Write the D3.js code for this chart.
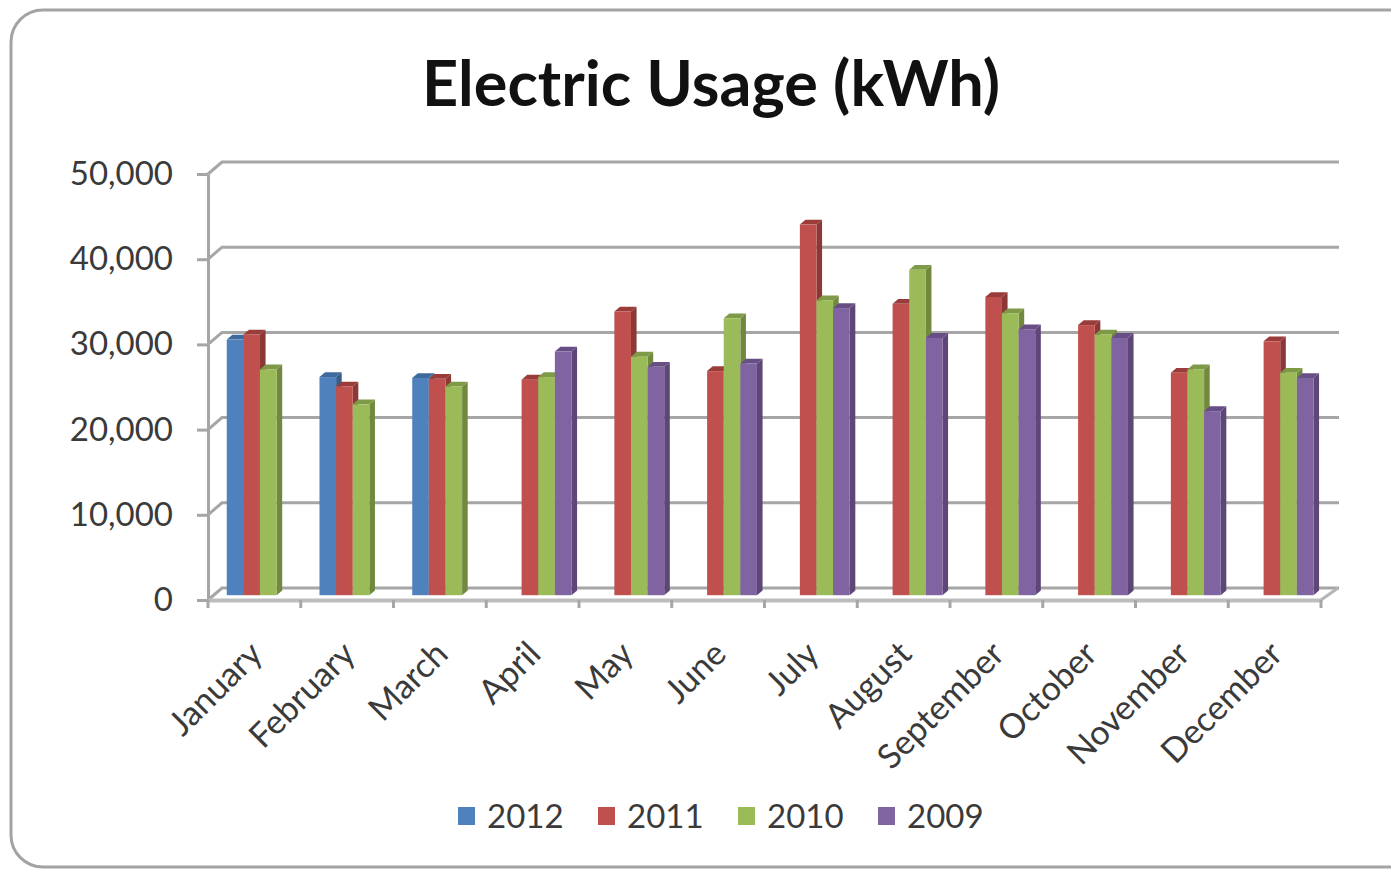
<!DOCTYPE html>
<html>
<head>
<meta charset="utf-8">
<script src="https://cdn.jsdelivr.net/npm/d3@7"></script>
<style>
  body { margin: 0; background: #fff; }
  text { font-family: Lato, 'Open Sans', sans-serif; }
</style>
</head>
<body>
<div id="chart"></div>
<script>
const months = ['January', 'February', 'March', 'April', 'May', 'June', 'July', 'August', 'September', 'October', 'November', 'December']
const years = ['2012', '2011', '2010', '2009']
const usage2012 = [30000, 25600, 25500, null, null, null, null, null, null, null, null, null]
const usage2011 = [30600, 24500, 25400, 25300, 33300, 26300, 43500, 34200, 35000, 31700, 26100, 29800]
const usage2010 = [26500, 22400, 24500, 25600, 28000, 32500, 34600, 38200, 33100, 30600, 26500, 26100]
const usage2009 = [null, null, null, 28600, 26800, 27200, 33700, 30200, 31200, 30200, 21600, 25500]
const yTicks = [0, 10000, 20000, 30000, 40000, 50000]

const seriesValues = [usage2012, usage2011, usage2010, usage2009]
const colors = ['#4f81bd', '#c0504d', '#9bbb59', '#8064a2']
const sideColors = ['#385d8a', '#8c3836', '#71893f', '#5c4776']
const topColors = ['#3f6a9e', '#9a3d3a', '#7e9a47', '#674f86']

const W = 1391
const H = 870
// depth of the 3D box: back wall -> front edge
const DX = -14
const DY = 12
const D_FRONT = 0.6 // bar front face
const D_BACK = 0.2 // bar back face

const svg = d3.select('#chart')
  .append('svg')
  .attr('width', W)
  .attr('height', H)

// outer chart border (right side runs off the picture)
svg.append('rect')
  .attr('x', 11)
  .attr('y', 10)
  .attr('width', 1410)
  .attr('height', 857)
  .attr('rx', 32)
  .style('fill', '#fff')
  .style('stroke', '#a3a3a3')
  .style('stroke-width', 3)

svg.append('text')
  .attr('x', 711)
  .attr('y', 106)
  .attr('text-anchor', 'middle')
  .style('font-size', '63px')
  .style('font-weight', 'bold')
  .style('fill', '#111')
  .text('Electric Usage (kWh)')

// back wall scales
const x0 = d3.scaleBand().domain(months).range([222, 1335])
const x1 = d3.scaleBand().domain(years).range([0, x0.bandwidth()]).paddingOuter(0.79)
const y = d3.scaleLinear().domain([0, 50000]).range([588, 162])

// front edge scales
const xFront = d3.scaleBand().domain(months).range([222 + DX, 1335 + DX])
const yFront = d3.scaleLinear().domain([0, 50000]).range([588 + DY, 162 + DY])

// gridlines on the back wall + left wall diagonal
svg.append('g')
  .selectAll('path')
  .data(yTicks)
  .join('path')
  .attr('d', (t) => `M${222 + DX},${y(t) + DY}L222,${y(t)}L1339,${y(t)}`)
  .style('fill', 'none')
  .style('stroke', '#a6a6a6')
  .style('stroke-width', 3)

// floor right edge
svg.append('path')
  .attr('d', `M${1335 + DX},${y(0) + DY}L1338,${y(0)}`)
  .style('stroke', '#b5b5b5')
  .style('stroke-width', 3)

// y axis on front edge
const yAxis = svg.append('g')
  .attr('transform', `translate(${222 + DX},0)`)
  .call(d3.axisLeft(yFront).tickValues(yTicks).tickFormat(d3.format(',')).tickSize(11).tickSizeOuter(0).tickPadding(24))
yAxis.select('.domain').style('stroke', '#a6a6a6').style('stroke-width', 3)
yAxis.selectAll('.tick line').style('stroke', '#a6a6a6').style('stroke-width', 3)
yAxis.selectAll('.tick text')
  .style('font-size', '33px')
  .style('fill', '#3a3a3a')
  .style('font-family', 'Lato, sans-serif')

// bars
const bars = []
months.forEach((m, i) => {
  years.forEach((yr, s) => {
    const v = seriesValues[s][i]
    if (v !== null) bars.push({ month: m, s, v })
  })
})

function face(pts) {
  return 'M' + pts.map((p) => p.join(',')).join('L') + 'Z'
}

const barG = svg.append('g')
  .selectAll('g')
  .data(bars)
  .join('g')

barG.each(function(d) {
  const g = d3.select(this)
  const bx = x0(d.month) + x1(years[d.s])
  const w = x1.bandwidth()
  const fl = bx + DX * D_FRONT
  const fr = fl + w
  const bl = bx + DX * D_BACK
  const br = bl + w
  const ft = y(d.v) + DY * D_FRONT
  const fb = y(0) + DY * D_FRONT
  const bt = y(d.v) + DY * D_BACK
  const bb = y(0) + DY * D_BACK

  g.append('path')
    .attr('d', face([[fr, ft], [fr, fb], [br, bb], [br, bt]]))
    .style('fill', sideColors[d.s])
  g.append('path')
    .attr('d', face([[fl, ft], [fr, ft], [br, bt], [bl, bt]]))
    .style('fill', topColors[d.s])
  g.append('rect')
    .attr('x', fl)
    .attr('y', ft)
    .attr('width', w)
    .attr('height', fb - ft)
    .style('fill', colors[d.s])
})

// x axis on front edge
const xAxis = svg.append('g')
  .attr('transform', `translate(0,${y(0) + DY})`)
  .call(d3.axisBottom(xFront).tickSize(0).tickSizeOuter(0))
xAxis.select('.domain').style('stroke', '#bdbdbd').style('stroke-width', 4)
xAxis.selectAll('.tick text')
  .attr('x', 0)
  .attr('y', 0)
  .attr('dy', 0)
  .attr('text-anchor', 'end')
  .attr('transform', 'translate(10,56) rotate(-45)')
  .style('font-size', '34px')
  .style('fill', '#3a3a3a')
  .style('font-family', 'Lato, sans-serif')

// tick marks between categories
xAxis.append('g')
  .selectAll('line')
  .data(months.map((m) => xFront(m)).concat([xFront.range()[1]]))
  .join('line')
  .attr('x1', (d) => d)
  .attr('x2', (d) => d)
  .attr('y1', 0)
  .attr('y2', 8)
  .style('stroke', '#a6a6a6')
  .style('stroke-width', 3)

// legend
const legend = svg.append('g')
  .selectAll('g')
  .data(years)
  .join('g')
  .attr('transform', (d, i) => `translate(${458 + i * 140},816)`)

legend.append('rect')
  .attr('x', 0)
  .attr('y', -9)
  .attr('width', 17)
  .attr('height', 18)
  .style('fill', (d, i) => colors[i])

legend.append('text')
  .attr('x', 29)
  .attr('y', 12)
  .style('font-size', '33px')
  .style('fill', '#3a3a3a')
  .text((d) => d)
</script>
</body>
</html>
